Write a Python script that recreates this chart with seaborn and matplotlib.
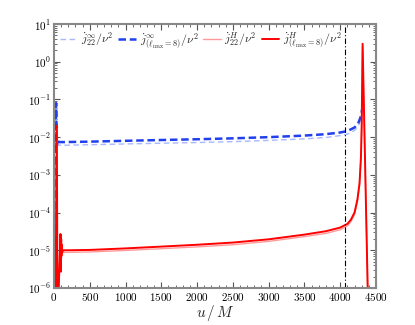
import numpy as np
import pandas as pd
import matplotlib
matplotlib.use("Agg")
import matplotlib.pyplot as plt
import matplotlib.ticker as mticker
import seaborn as sns

# ---- data ----
u_inf = [10, 30, 40, 50, 60, 80, 150, 500, 1000, 1500, 2000, 2500, 3000,
         3500, 3800, 4000, 4100, 4200, 4250, 4280, 4300, 4310]
j_inf_22 = [1e-6, 6e-2, 5e-3, 7e-3, 6.2e-3, 6.1e-3, 6.1e-3, 6.3e-3, 6.6e-3,
            6.9e-3, 7.2e-3, 7.6e-3, 8.2e-3, 9.0e-3, 9.8e-3, 1.1e-2, 1.2e-2,
            1.5e-2, 1.9e-2, 2.7e-2, 3.8e-2, 5e-2]
j_inf_l8 = [1e-6, 8e-2, 6e-3, 9e-3, 7.5e-3, 7.4e-3, 7.4e-3, 7.6e-3, 8.0e-3,
            8.4e-3, 8.8e-3, 9.3e-3, 1.0e-2, 1.1e-2, 1.2e-2, 1.33e-2, 1.45e-2,
            1.8e-2, 2.3e-2, 3.2e-2, 4.5e-2, 6e-2]

u_H = [20, 40, 50, 85, 90, 93, 96, 98, 101, 104, 108, 115, 130, 200, 500,
       1000, 1500, 2000, 2500, 3000, 3500, 3800, 4000, 4100, 4150, 4200,
       4240, 4270, 4290, 4300, 4313, 4384]
j_H_l8 = [1e-7, 2e-2, 1e-7, 1.2e-5, 2.7e-5, 5e-6, 2.5e-5, 2.7e-6, 2e-5, 7e-6,
          1.4e-5, 9e-6, 1.0e-5, 1.0e-5, 1.02e-5, 1.12e-5, 1.25e-5, 1.4e-5,
          1.6e-5, 1.95e-5, 2.6e-5, 3.2e-5, 4.0e-5, 5e-5, 6.5e-5, 1.0e-4,
          2.2e-4, 6e-4, 3e-3, 2e-2, 3.0, 1e-6]
j_H_22 = [1e-7, 1.6e-2, 1e-7, 1.0e-5, 2.3e-5, 4.5e-6, 2.1e-5, 3e-6, 1.7e-5,
          6.5e-6, 1.2e-5, 8e-6, 8.8e-6, 8.8e-6, 9.0e-6, 9.9e-6, 1.1e-5,
          1.23e-5, 1.4e-5, 1.72e-5, 2.3e-5, 2.8e-5, 3.5e-5, 4.4e-5, 5.7e-5,
          8.8e-5, 1.9e-4, 5.3e-4, 2.6e-3, 1.7e-2, 2.5, 1e-6]

u_line = 4070

x_ticks = [0, 500, 1000, 1500, 2000, 2500, 3000, 3500, 4000, 4500]
y_exps = [-6, -5, -4, -3, -2, -1, 0, 1]

labels = [r"$\dot{j}^{\infty}_{22}/\nu^2$",
          r"$\dot{j}^{\infty}_{(\ell_{\rm max}=8)}/\nu^2$",
          r"$\dot{j}^{H}_{22}/\nu^2$",
          r"$\dot{j}^{H}_{(\ell_{\rm max}=8)}/\nu^2$"]

sns.set_theme(style="ticks")
plt.rcParams["mathtext.fontset"] = "cm"
plt.rcParams["font.family"] = ["DejaVu Serif"]

fig = plt.figure(figsize=(4.15, 3.25), dpi=100)
ax = fig.add_axes([0.130, 0.114, 0.776, 0.812])

series = [
    (u_inf, j_inf_22, labels[0], "#a8b8ff", 1.0, (4, 2.5)),
    (u_inf, j_inf_l8, labels[1], "#2040ee", 1.8, (3, 1.5)),
    (u_H, j_H_22, labels[2], "#ff9a9a", 1.0, None),
    (u_H, j_H_l8, labels[3], "#ff0000", 1.4, None),
]
for uu, vv, lab, col, lw, dash in series:
    df = pd.DataFrame({"u": uu, "v": vv})
    sns.lineplot(data=df, x="u", y="v", ax=ax, sort=False, estimator=None,
                 color=col, linewidth=lw, label=lab)
    line = ax.get_lines()[-1]
    if dash is not None:
        line.set_dashes(dash)

ax.axvline(u_line, color="black", linewidth=0.8, linestyle=(0, (5, 2, 1, 2)))

ax.set_yscale("log")
ax.set_xlim(0, 4500)
ax.set_ylim(1e-6, 1e1)
ax.set_xlabel(r"$u\,/\,M$", fontsize=11, labelpad=0)
ax.set_ylabel("")
ax.yaxis.label.set_visible(False)

ax.set_xticks(x_ticks)
ax.set_xticklabels([r"$%d$" % t for t in x_ticks])
ax.xaxis.set_minor_locator(mticker.FixedLocator(
    [m for m in range(0, 4501, 100) if m % 500 != 0]))
ax.set_yticks([10.0 ** e for e in y_exps])
ax.set_yticklabels([r"$10^{%d}$" % e for e in y_exps])
ax.yaxis.set_minor_locator(mticker.FixedLocator(
    [k * 10.0 ** e for e in y_exps[:-1] for k in range(2, 10)]))
ax.yaxis.set_minor_formatter(mticker.NullFormatter())

ax.tick_params(which="both", direction="in", top=True, right=True,
               colors="#555555", labelcolor="black", labelsize=8)
ax.tick_params(which="major", length=4, width=0.8, pad=2)
ax.tick_params(which="minor", length=2, width=0.6)
for s in ax.spines.values():
    s.set_color("#888888")
    s.set_linewidth(1.5)

leg = ax.legend(loc="upper left", ncol=4, frameon=False, fontsize=8.5,
                handlelength=1.5, columnspacing=0.4, handletextpad=0.3,
                borderaxespad=0.1, bbox_to_anchor=(0.0, 1.0))

fig.savefig("out.png", dpi=100)
